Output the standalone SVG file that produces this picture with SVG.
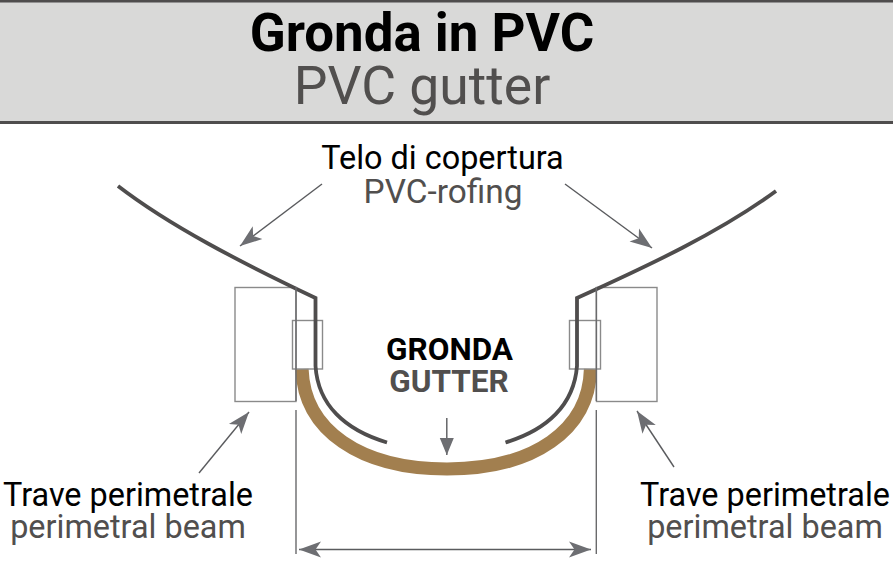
<svg xmlns="http://www.w3.org/2000/svg" width="893" height="585" viewBox="0 0 893 585">
<style>
text{font-family:Roboto,"Liberation Sans",sans-serif;text-anchor:middle}
.k{fill:#000}.g{fill:#514f4e}
.lbl{font-size:32.400px}
.tag{font-size:31.500px;font-weight:700}
.box{fill:none;stroke:#8a8a8a;stroke-width:1.4}
.mem{fill:none;stroke:#4f4d4d;stroke-width:3.8}
.arr{fill:none;stroke:#5a5b5e;stroke-width:1.4;marker-end:url(#h)}
.dim{fill:none;stroke:#6a6a6c;stroke-width:1.4}
</style>
<defs>
<marker id="h" markerUnits="userSpaceOnUse" markerWidth="30" markerHeight="24" refX="22" refY="12" orient="auto-start-reverse" viewBox="0 0 30 24"><path d="M22 12 L0 4 L5.500 12 L0 20Z" fill="#6d6e72"/></marker>
<marker id="t" markerUnits="userSpaceOnUse" markerWidth="20" markerHeight="20" refX="17" refY="10" orient="auto" viewBox="0 0 20 20"><path d="M17 10 L0 3 L0 17Z" fill="#6d6e72"/></marker>
</defs>
<rect width="893" height="585" fill="#fff"/>
<g id="header">
<rect x="0" y="0" width="893" height="123" fill="#d9d9d8"/>
<rect x="0" y="0" width="893" height="2.500" fill="#4f4d4d"/>
<rect x="0" y="121" width="893" height="3" fill="#4f4d4d"/>
<text class="k" x="422" y="51" font-size="52.800" font-weight="700">Gronda in PVC</text>
<text class="g" x="422" y="104" font-size="53.500">PVC gutter</text>
</g>
<g id="beam-left"><rect class="box" x="235" y="287.500" width="61" height="114"/></g>
<g id="beam-right"><rect class="box" x="596.500" y="287.500" width="60.500" height="114"/></g>
<g id="gutter"><path d="M302 369 C304 430 360 469 447 469 C534 469 589 430 590.500 369" fill="none" stroke="#a27f4f" stroke-width="13.200"/></g>
<g id="clip-left"><rect class="box" x="292.500" y="320.500" width="30" height="48.500"/></g>
<g id="clip-right"><rect class="box" x="569.500" y="320.500" width="31" height="48.500"/></g>
<g id="roofing-left"><path class="mem" d="M118 186 C170 226 240 262 315.500 298 L315.500 366 C318 405 345 430 387 442.500"/></g>
<g id="roofing-right"><path class="mem" d="M776 191 C720 232 650 265 577 298 L577 366 C574 405 547 430 505.500 442.500"/></g>
<g id="connectors">
<path class="dim" d="M296 287V401M296 410V554M596.300 287V401M596.300 410V554"/>
<path class="arr" d="M322 184L240 246"/>
<path class="arr" d="M565 184L652 248"/>
<path class="arr" d="M199 473L249 412"/>
<path class="arr" d="M674 467L637 411"/>
<path class="dim" style="marker-end:url(#t);stroke:#5a5b5e" d="M446.800 418V455"/>
<path class="arr" style="marker-start:url(#h)" d="M299 549.500H591"/>
</g>
<g id="label-roof">
<text class="k lbl" x="442.500" y="169">Telo di copertura</text>
<text class="g" x="443" y="203" font-size="33.400">PVC-rofing</text>
</g>
<g id="label-gutter">
<text class="k tag" x="449.500" y="360">GRONDA</text>
<text class="g tag" x="449" y="392" font-size="31">GUTTER</text>
</g>
<g id="label-beam-left">
<text class="k lbl" x="128" y="506">Trave perimetrale</text>
<text class="g lbl" x="128" y="538">perimetral beam</text>
</g>
<g id="label-beam-right">
<text class="k lbl" x="765" y="506">Trave perimetrale</text>
<text class="g lbl" x="765" y="538">perimetral beam</text>
</g>
</svg>
